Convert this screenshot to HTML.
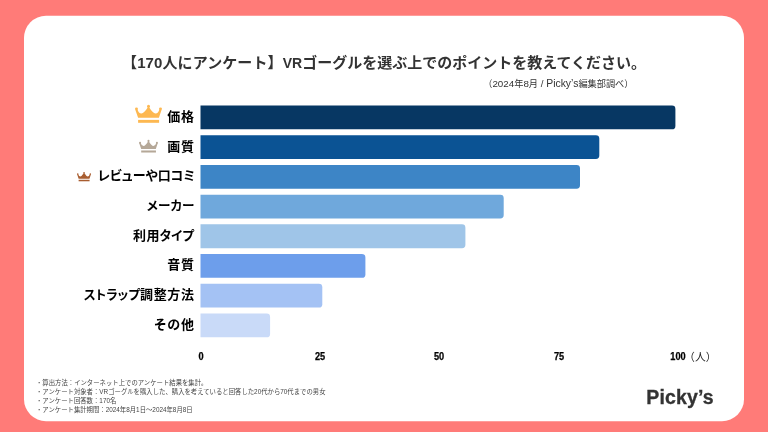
<!DOCTYPE html>
<html>
<head>
<meta charset="utf-8">
<title>VRゴーグルを選ぶ上でのポイント</title>
<style>
  html, body { margin: 0; padding: 0; }
  body {
    width: 768px; height: 432px; overflow: hidden; position: relative;
    background: #ff7b78;
    font-family: "Liberation Sans", "Noto Sans CJK JP", sans-serif;
    color: #333;
  }
  .stage { position: absolute; left: 0; top: 0; width: 768px; height: 432px; will-change: transform; }
  .shapes { position: absolute; left: 0; top: 0; }
  .title {
    position: absolute; left: 0; width: 768px; top: 51.4px; height: 24px; line-height: 24px;
    text-align: center; font-size: 15px; font-weight: 700; color: #333; white-space: nowrap;
    font-family: "Liberation Sans", "Noto Sans CJK JP", sans-serif;
  }
  .title .a { letter-spacing: 0.1px; }
  .title .v { font-size: 14px; }
  .sub {
    position: absolute; right: 134.5px; top: 75.8px; height: 16px; line-height: 16px;
    font-size: 9.8px; color: #333; white-space: nowrap;
  }
  .sub .c { font-size: 9.2px; }
  .sub .p { font-size: 10.4px; }
  .row { position: absolute; left: 0; width: 768px; height: 24px; }
  .label {
    position: absolute; right: 574px; top: -0.7px; height: 24px; line-height: 24px;
    font-size: 12.6px; font-weight: 700; color: #000; white-space: nowrap;
    font-feature-settings: "palt";
  }
  .label .j { font-size: 13px; letter-spacing: 0.65px; font-feature-settings: normal; }
  .label .j:last-child { margin-right: -0.65px; }
  .crown { position: absolute; overflow: visible; }
  .tick {
    position: absolute; top: 349.8px; height: 14px; line-height: 14px; width: 40px; margin-left: -20px;
    text-align: center; font-size: 10px; font-weight: 700; color: #000; white-space: nowrap; transform: scaleX(0.92); -webkit-text-stroke: 0.25px #000;
  }
  .unit {
    position: absolute; left: 684.1px; top: 349.4px; height: 16px; line-height: 16px;
    font-size: 10.8px; color: #222; white-space: nowrap;
  }
  .notes {
    position: absolute; left: 36px; top: 379.6px; font-size: 6.37px; line-height: 8.87px;
    color: #444; white-space: nowrap;
  }
  .notes div { position: absolute; left: 0; height: 8.87px; }
  .logo {
    position: absolute; left: 646.3px; top: 385.2px; height: 24px; line-height: 24px;
    font-size: 19.5px; font-weight: 700; color: #333; white-space: nowrap; letter-spacing: 0.15px; -webkit-text-stroke: 0.3px #333;
  }
</style>
</head>
<body>
<div class="stage">
  <svg class="shapes" width="768" height="432" viewBox="0 0 768 432">
    <rect class="card" x="24" y="15.8" width="720" height="405.4" rx="22" ry="22" fill="#ffffff"/>
    <g class="bars">
      <path d="M200.5 105.50H672.00A3.4 3.4 0 0 1 675.40 108.90V125.90A3.4 3.4 0 0 1 672.00 129.30H200.5Z" fill="#073763"/>
      <path d="M200.5 135.21H595.90A3.4 3.4 0 0 1 599.30 138.61V155.61A3.4 3.4 0 0 1 595.90 159.01H200.5Z" fill="#0b5394"/>
      <path d="M200.5 164.93H576.60A3.4 3.4 0 0 1 580.00 168.33V185.33A3.4 3.4 0 0 1 576.60 188.73H200.5Z" fill="#3d85c6"/>
      <path d="M200.5 194.64H500.30A3.4 3.4 0 0 1 503.70 198.04V215.04A3.4 3.4 0 0 1 500.30 218.44H200.5Z" fill="#6fa8dc"/>
      <path d="M200.5 224.36H462.00A3.4 3.4 0 0 1 465.40 227.76V244.76A3.4 3.4 0 0 1 462.00 248.16H200.5Z" fill="#9fc5e8"/>
      <path d="M200.5 254.07H362.00A3.4 3.4 0 0 1 365.40 257.47V274.47A3.4 3.4 0 0 1 362.00 277.87H200.5Z" fill="#6d9eeb"/>
      <path d="M200.5 283.78H318.90A3.4 3.4 0 0 1 322.30 287.18V304.18A3.4 3.4 0 0 1 318.90 307.58H200.5Z" fill="#a4c2f4"/>
      <path d="M200.5 313.50H266.70A3.4 3.4 0 0 1 270.10 316.90V333.90A3.4 3.4 0 0 1 266.70 337.30H200.5Z" fill="#c9daf8"/>
    </g>
  </svg>

  <div class="title"><span class="a">【170人にアンケート】</span><span class="v">VR</span>ゴーグルを選ぶ上でのポイントを教えてください。</div>
  <div class="sub"><span class="c">（</span>2024<span class="c">年</span>8<span class="c">月</span> / <span class="p">Picky’s</span><span class="c">編集部調べ）</span></div>

  <div class="row" style="top:105.5px">
    <svg class="crown" style="left:135px;top:-0.5px" width="27" height="18" viewBox="0 0 27 18"><g fill="#fdb851">
      <path d="M3.1 12.8 L0.3 4.7 L1.4 3.8 L2.4 4.2 Q3.6 8.3 6.4 8.55 Q9.2 8 12.7 2.4 L12.9 1.3 L14.1 1.3 L14.3 2.4 Q17.7 8 20.5 8.55 Q23.3 8.3 24.5 4.2 L25.5 3.8 L26.6 4.7 L23.9 12.8 Z"/>
      <circle cx="1.47" cy="3.86" r="1.45"/>
      <circle cx="13.5" cy="1.32" r="1.5"/>
      <circle cx="25.5" cy="3.86" r="1.45"/>
      <rect x="3.1" y="14.9" width="21" height="2.9"/>
    </g></svg>
    <div class="label"><span class="j">価格</span></div>
  </div>
  <div class="row" style="top:135.2px">
    <svg class="crown" style="left:139px;top:4.7px" width="19" height="12.67" viewBox="0 0 27 18"><g fill="#b5a898">
      <path d="M3.1 12.8 L0.3 4.7 L1.4 3.8 L2.4 4.2 Q3.6 8.3 6.4 8.55 Q9.2 8 12.7 2.4 L12.9 1.3 L14.1 1.3 L14.3 2.4 Q17.7 8 20.5 8.55 Q23.3 8.3 24.5 4.2 L25.5 3.8 L26.6 4.7 L23.9 12.8 Z"/>
      <circle cx="1.47" cy="3.86" r="1.45"/>
      <circle cx="13.5" cy="1.32" r="1.5"/>
      <circle cx="25.5" cy="3.86" r="1.45"/>
      <rect x="3.1" y="14.9" width="21" height="2.9"/>
    </g></svg>
    <div class="label"><span class="j">画質</span></div>
  </div>
  <div class="row" style="top:164.9px">
    <svg class="crown" style="left:76.8px;top:6.9px" width="14.1" height="9.4" viewBox="0 0 27 18"><g fill="#a85d30">
      <path d="M3.1 12.8 L0.3 4.7 L1.4 3.8 L2.4 4.2 Q3.6 8.3 6.4 8.55 Q9.2 8 12.7 2.4 L12.9 1.3 L14.1 1.3 L14.3 2.4 Q17.7 8 20.5 8.55 Q23.3 8.3 24.5 4.2 L25.5 3.8 L26.6 4.7 L23.9 12.8 Z"/>
      <circle cx="1.47" cy="3.86" r="1.45"/>
      <circle cx="13.5" cy="1.32" r="1.5"/>
      <circle cx="25.5" cy="3.86" r="1.45"/>
      <rect x="3.1" y="14.9" width="21" height="2.9"/>
    </g></svg>
    <div class="label" style="right:573px;font-size:13px">レビューや口コミ</div>
  </div>
  <div class="row" style="top:194.6px">
    <div class="label" style="right:573.3px;letter-spacing:0.2px">メーカー</div>
  </div>
  <div class="row" style="top:224.3px">
    <div class="label"><span class="j">利用</span>タイプ</div>
  </div>
  <div class="row" style="top:254px">
    <div class="label"><span class="j">音質</span></div>
  </div>
  <div class="row" style="top:283.8px">
    <div class="label">ストラップ<span class="j">調整方法</span></div>
  </div>
  <div class="row" style="top:313.5px">
    <div class="label"><span class="j">その他</span></div>
  </div>

  <div class="tick" style="left:201.25px">0</div>
  <div class="tick" style="left:320.2px">25</div>
  <div class="tick" style="left:439.4px">50</div>
  <div class="tick" style="left:559.1px">75</div>
  <div class="tick" style="left:677.6px">100</div>
  <div class="unit">（人）</div>

  <div class="notes">
    <div style="top:-1px">・算出方法：インターネット上でのアンケート結果を集計。</div>
    <div style="top:8.87px">・アンケート対象者：VRゴーグルを購入した、購入を考えていると回答した20代から70代までの男女</div>
    <div style="top:17.74px">・アンケート回答数：170名</div>
    <div style="top:26.61px">・アンケート集計期間：2024年8月1日〜2024年8月8日</div>
  </div>

  <div class="logo">Picky’s</div>

</div>
</body>
</html>
